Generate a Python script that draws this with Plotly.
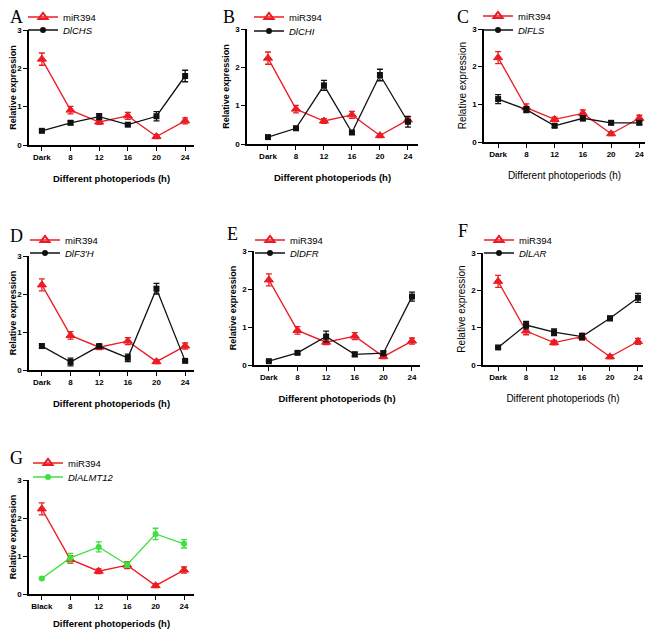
import plotly.graph_objects as go

W, H = 656, 634
OFFX = 8   # page body margin offset in the screenshot
OFFY = 8

# ---------------- data ----------------
photoperiods = ["Dark", "8", "12", "16", "20", "24"]
photoperiods_g = ["Black", "8", "12", "16", "20", "24"]

mir394 = [2.24, 0.91, 0.60, 0.76, 0.22, 0.63]
mir394_err = [0.16, 0.10, 0.06, 0.09, 0.05, 0.08]

dichs = [0.37, 0.58, 0.74, 0.53, 0.75, 1.80]
dichs_err = [0.03, 0.05, 0.08, 0.04, 0.12, 0.15]

dichi = [0.18, 0.41, 1.53, 0.30, 1.80, 0.58]
dichi_err = [0.02, 0.05, 0.13, 0.04, 0.15, 0.14]

difls = [1.14, 0.86, 0.43, 0.63, 0.51, 0.51]
difls_err = [0.12, 0.08, 0.04, 0.07, 0.05, 0.05]

dif3h = [0.63, 0.21, 0.63, 0.32, 2.14, 0.24]
dif3h_err = [0.06, 0.10, 0.04, 0.10, 0.14, 0.03]

didfr = [0.10, 0.32, 0.75, 0.28, 0.31, 1.80]
didfr_err = [0.02, 0.03, 0.14, 0.06, 0.06, 0.12]

dilar = [0.47, 1.07, 0.88, 0.76, 1.25, 1.80]
dilar_err = [0.03, 0.10, 0.09, 0.08, 0.06, 0.12]

dialmt12 = [0.41, 0.95, 1.24, 0.77, 1.58, 1.32]
dialmt12_err = [0.03, 0.12, 0.13, 0.07, 0.15, 0.11]

# ---------------- styling / geometry ----------------
RED = "#ec1c24"
BLACK = "#111111"
GREEN = "#3ee03e"
FONT = "Liberation Sans, Arial, sans-serif"

panels = [
    dict(letter="A", cats=photoperiods, gene="DlCHS", vals=dichs, errs=dichs_err, color=BLACK,
         xpix=(29, 194), xr=(-0.45, 5.31), ypix=(30, 145), lpos=(8, 13), leg=(61, 17, 30), bold=True),
    dict(letter="B", cats=photoperiods, gene="DlCHI", vals=dichi, errs=dichi_err, color=BLACK,
         xpix=(247, 418), xr=(-0.75, 5.36), ypix=(29, 144), lpos=(221, 12), leg=(287, 17, 31), bold=True),
    dict(letter="C", cats=photoperiods, gene="DlFLS", vals=difls, errs=difls_err, color=BLACK,
         xpix=(484, 645), xr=(-0.5, 5.2), ypix=(29, 142), lpos=(455, 13), leg=(516, 16, 30), bold=False),
    dict(letter="D", cats=photoperiods, gene="DlF3\u2032H", vals=dif3h, errs=dif3h_err, color=BLACK,
         xpix=(29, 194), xr=(-0.45, 5.31), ypix=(256, 370), lpos=(8, 236), leg=(63, 240, 253), bold=True),
    dict(letter="E", cats=photoperiods, gene="DlDFR", vals=didfr, errs=didfr_err, color=BLACK,
         xpix=(254, 420), xr=(-0.52, 5.28), ypix=(251, 365), lpos=(225, 234), leg=(288, 240, 253), bold=True),
    dict(letter="F", cats=photoperiods, gene="DlLAR", vals=dilar, errs=dilar_err, color=BLACK,
         xpix=(483, 643), xr=(-0.54, 5.18), ypix=(253, 365), lpos=(456, 231), leg=(517, 240, 253), bold=False),
    dict(letter="G", cats=photoperiods_g, gene="DlALMT12", vals=dialmt12, errs=dialmt12_err, color=GREEN,
         xpix=(29, 194), xr=(-0.45, 5.35), ypix=(480, 594), lpos=(8, 458), leg=(66, 463, 477), bold=True),
]


def px(x):
    return (x - OFFX) / W


def py(y):
    return 1 - (y - OFFY) / H


fig = go.Figure()
layout = dict(
    width=W, height=H, autosize=False,
    margin=dict(l=0, r=0, t=0, b=0, autoexpand=False),
    paper_bgcolor="white", plot_bgcolor="white",
    font=dict(family=FONT, color="black"),
    annotations=[],
)

for i, p in enumerate(panels, start=1):
    xa = "x" if i == 1 else f"x{i}"
    ya = "y" if i == 1 else f"y{i}"
    xkey = "xaxis" if i == 1 else f"xaxis{i}"
    ykey = "yaxis" if i == 1 else f"yaxis{i}"
    n1, n2 = 2 * i - 1, 2 * i
    lg1 = "legend" if n1 == 1 else f"legend{n1}"
    lg2 = f"legend{n2}"

    # data traces
    fig.add_trace(go.Scatter(
        x=p["cats"], y=mir394, xaxis=xa, yaxis=ya, mode="lines+markers",
        line=dict(color=RED, width=1.3),
        marker=dict(symbol="triangle-up", size=8, color=RED,
                    line=dict(color=RED, width=1)),
        error_y=dict(type="data", array=mir394_err, color=RED, thickness=1.3, width=3),
        showlegend=False))
    gsym = "circle" if p["color"] == GREEN else "square"
    fig.add_trace(go.Scatter(
        x=p["cats"], y=p["vals"], xaxis=xa, yaxis=ya, mode="lines+markers",
        line=dict(color=p["color"], width=1.3),
        marker=dict(symbol=gsym, size=6, color=p["color"]),
        error_y=dict(type="data", array=p["errs"], color=p["color"], thickness=1.3, width=3),
        showlegend=False))
    # legend entries (each in its own legend for tight spacing)
    fig.add_trace(go.Scatter(
        x=[None], y=[None], xaxis=xa, yaxis=ya, mode="lines+markers",
        line=dict(color=RED, width=1.5),
        marker=dict(symbol="triangle-up-open", size=8, color=RED, line=dict(width=2)),
        name="miR394", legend=lg1, showlegend=True))
    fig.add_trace(go.Scatter(
        x=[None], y=[None], xaxis=xa, yaxis=ya, mode="lines+markers",
        line=dict(color=p["color"], width=1.5),
        marker=dict(symbol="circle", size=6, color=p["color"]),
        name=f"<i>{p['gene']}</i>", legend=lg2, showlegend=True))

    x0, x1 = p["xpix"]
    yt, yb = p["ypix"]
    tfont = dict(size=9.5 if p["bold"] else 10, weight="bold" if p["bold"] else "normal",
                 family=FONT, color="black")
    layout[xkey] = dict(
        domain=[px(x0), px(x1)], anchor=ya, type="category",
        range=list(p["xr"]), showgrid=False, zeroline=False,
        showline=True, linecolor="black", linewidth=1.5,
        ticks="outside", ticklen=4, tickwidth=1.2, tickcolor="black",
        tickfont=dict(size=8, weight="bold"),
        title=dict(text="Different photoperiods (h)", font=tfont, standoff=14 if i != 7 else 10),
        automargin=False, fixedrange=True)
    layout[ykey] = dict(
        domain=[py(yb), py(yt)], anchor=xa,
        range=[0, 3], tickvals=[0, 1, 2, 3], showgrid=False, zeroline=False,
        showline=True, linecolor="black", linewidth=1.5,
        ticks="outside", ticklen=4, tickwidth=1.2, tickcolor="black",
        tickfont=dict(size=8, weight="bold"),
        title=dict(text="Relative expression", font=dict(tfont, size=9 if p["bold"] else 10), standoff=4),
        automargin=False, fixedrange=True)

    tx, ry, by = p["leg"]
    for lg, yy in ((lg1, ry), (lg2, by)):
        layout[lg] = dict(
            x=px(tx - 38), y=py(yy), xanchor="left", yanchor="middle",
            bgcolor="rgba(0,0,0,0)", borderwidth=0, tracegroupgap=0,
            itemwidth=30, font=dict(size=9.5, family=FONT),
            itemclick=False, itemdoubleclick=False)

    lx, lyy = p["lpos"]
    layout["annotations"].append(dict(
        text=p["letter"], x=px(max(lx, OFFX)), y=py(max(lyy, 17)), xref="paper", yref="paper",
        xanchor="left", yanchor="middle", showarrow=False,
        font=dict(family="Liberation Serif, Times New Roman, serif", size=18, color="black")))

fig.update_layout(**layout)
fig.write_html("out.html")
